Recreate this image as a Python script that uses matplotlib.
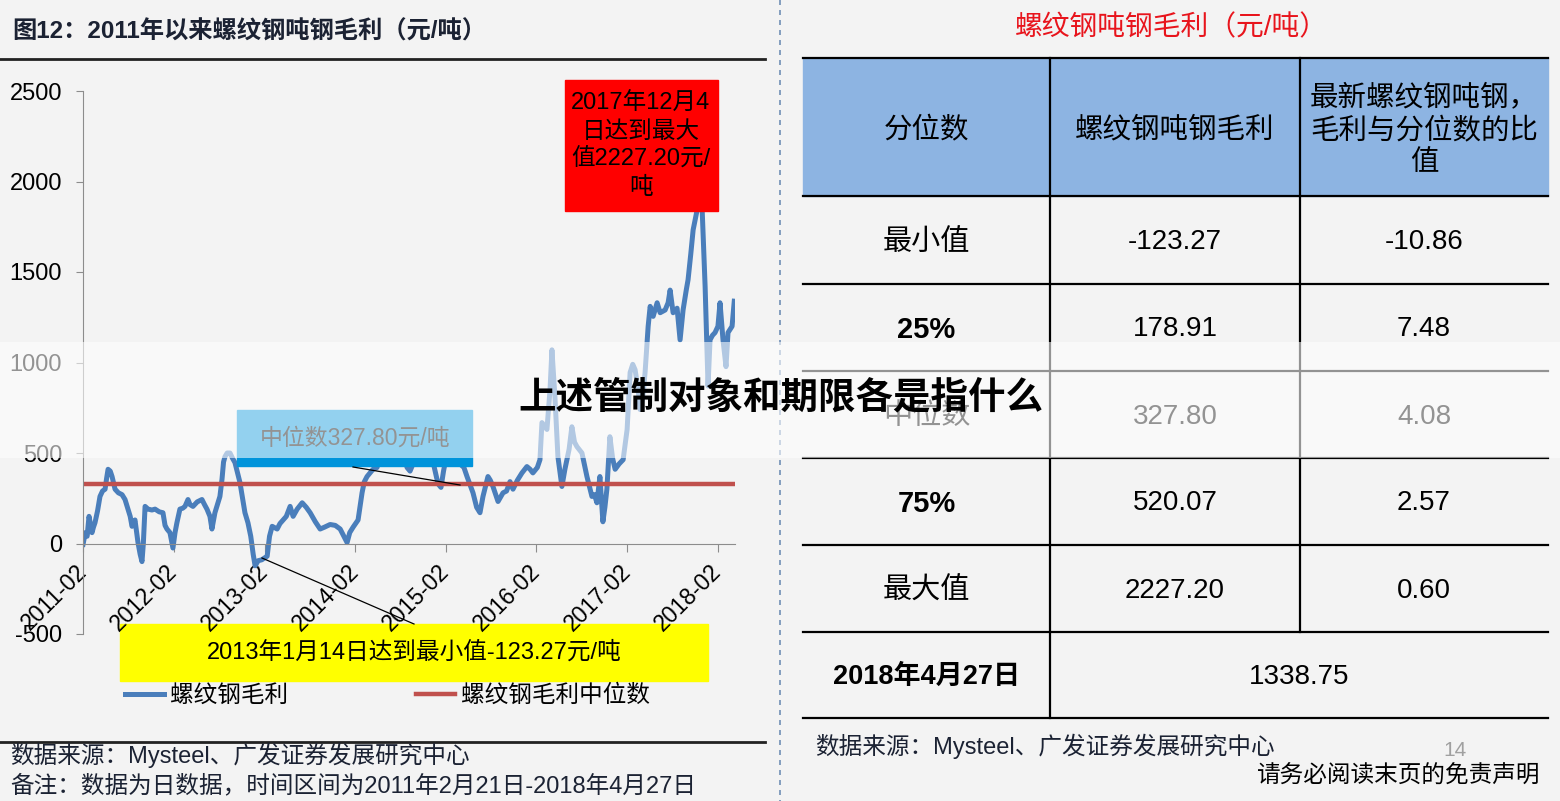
import matplotlib.pyplot as plt
import matplotlib.patches as mpatches
import pandas as pd

plt.rcParams['font.family'] = ['Liberation Sans', 'Noto Sans CJK SC', 'DejaVu Sans']
plt.rcParams['axes.unicode_minus'] = False

# ---- data: rebar gross margin per ton (yuan/ton) ----
t_year = [2011.140, 2011.165, 2011.185, 2011.206, 2011.239, 2011.255, 2011.272, 2011.300,
          2011.327, 2011.355, 2011.383, 2011.400, 2011.416, 2011.440, 2011.460, 2011.493,
          2011.530, 2011.570, 2011.603, 2011.636, 2011.660, 2011.680, 2011.713, 2011.746,
          2011.770, 2011.790, 2011.805, 2011.824, 2011.857, 2011.900, 2011.934, 2011.980,
          2012.022, 2012.045, 2012.066, 2012.099, 2012.132, 2012.155, 2012.176, 2012.209,
          2012.240, 2012.265, 2012.298, 2012.320, 2012.353, 2012.400, 2012.452, 2012.480,
          2012.507, 2012.540, 2012.562, 2012.595, 2012.628, 2012.650, 2012.673, 2012.690,
          2012.706, 2012.730, 2012.761, 2012.790, 2012.816, 2012.845, 2012.871, 2012.900,
          2012.926, 2012.959, 2012.990, 2013.015, 2013.036, 2013.070, 2013.110, 2013.140,
          2013.169, 2013.195, 2013.224, 2013.279, 2013.310, 2013.345, 2013.380, 2013.422,
          2013.455, 2013.500, 2013.555, 2013.600, 2013.643, 2013.700, 2013.753, 2013.800,
          2013.863, 2013.920, 2013.974, 2014.051, 2014.080, 2014.117, 2014.172, 2014.216,
          2014.240, 2014.271, 2014.337, 2014.381, 2014.420, 2014.470, 2014.530, 2014.580,
          2014.635, 2014.680, 2014.712, 2014.745, 2014.778, 2014.856, 2014.900, 2014.944,
          2014.999, 2015.054, 2015.087, 2015.115, 2015.142, 2015.219, 2015.296, 2015.340,
          2015.374, 2015.440, 2015.480, 2015.517, 2015.550, 2015.605, 2015.630, 2015.660,
          2015.716, 2015.771, 2015.810, 2015.848, 2015.881, 2015.930, 2015.980, 2016.035,
          2016.070, 2016.101, 2016.150, 2016.179, 2016.201, 2016.256, 2016.290, 2016.311,
          2016.344, 2016.377, 2016.421, 2016.454, 2016.500, 2016.531, 2016.560, 2016.587,
          2016.642, 2016.697, 2016.752, 2016.780, 2016.807, 2016.840, 2016.873, 2016.895,
          2016.917, 2016.950, 2016.980, 2017.006, 2017.050, 2017.094, 2017.138, 2017.171,
          2017.200, 2017.226, 2017.260, 2017.281, 2017.310, 2017.336, 2017.370, 2017.392,
          2017.425, 2017.469, 2017.502, 2017.557, 2017.590, 2017.612, 2017.645, 2017.689,
          2017.722, 2017.755, 2017.790, 2017.810, 2017.840, 2017.866, 2017.910, 2017.926,
          2017.945, 2017.965, 2017.998, 2018.031, 2018.053, 2018.080, 2018.108, 2018.140,
          2018.163, 2018.196, 2018.229, 2018.251, 2018.296, 2018.320]
margin = [-5, 60, 40, 150, 60, 90, 115, 180,
          260, 290, 300, 360, 410, 400, 370, 300,
          280, 270, 243, 190, 150, 95, 130, 5,
          -60, -100, 0, 205, 190, 185, 190, 175,
          170, 100, 80, 60, -25, 60, 115, 190,
          195, 205, 243, 215, 205, 230, 243, 215,
          190, 150, 80, 170, 225, 260, 355, 450,
          480, 500, 500, 470, 447, 390, 337, 250,
          170, 115, 40, -60, -123.27, -95, -90, -80,
          -70, 40, 95, 80, 110, 130, 150, 205,
          150, 190, 225, 200, 170, 120, 80, 90,
          105, 100, 80, 5, 60, 90, 130, 280,
          340, 370, 410, 420, 480, 520, 500, 480,
          560, 480, 420, 400, 440, 520, 500, 480,
          450, 330, 310, 400, 470, 450, 440, 420,
          370, 280, 200, 170, 260, 370, 350, 315,
          232, 280, 290, 342, 300, 350, 390, 425,
          410, 390, 420, 463, 668, 630, 850, 1070,
          811, 480, 315, 410, 520, 645, 560, 535,
          500, 370, 260, 270, 225, 370, 120, 200,
          300, 590, 470, 410, 440, 463, 630, 945,
          990, 960, 850, 740, 800, 945, 1200, 1310,
          1255, 1330, 1275, 1290, 1330, 1400, 1275, 1300,
          1125, 1290, 1400, 1457, 1600, 1733, 1843, 2227.20,
          2100, 1850, 1420, 870, 1125, 1150, 1165, 1200,
          1330, 1125, 977, 1165, 1200, 1338.75]
median_value = 327.80

# ---- table data ----
tbl_header = ['分位数', '螺纹钢吨钢毛利', '最新螺纹钢吨钢，\n毛利与分位数的比\n值']
tbl_rows = ['最小值', '25%', '中位数', '75%', '最大值']
tbl_margin = ['-123.27', '178.91', '327.80', '520.07', '2227.20']
tbl_ratio = ['-10.86', '7.48', '4.08', '2.57', '0.60']
latest_label = '2018年4月27日'
latest_value = '1338.75'


def to_date(y):
    yr = int(y)
    return pd.Timestamp(yr, 1, 1) + pd.Timedelta(days=(y - yr) * 365.25)


dates = [to_date(y) for y in t_year]

W, H = 1560, 801
fig = plt.figure(figsize=(W / 100, H / 100), dpi=100, facecolor='#f3f3f3')

# page overlay in pixel coords (created first so its transform can be reused)
pg = fig.add_axes([0, 0, 1, 1], zorder=5)
pg.set_xlim(0, W)
pg.set_ylim(H, 0)
pg.axis('off')

# ---- line chart ----
ax = fig.add_axes([83 / W, 1 - 634 / H, (735 - 83) / W, (634 - 91) / H], zorder=1)
ax.patch.set_alpha(0)
ax.plot(dates, margin, color='#4a7ebb', lw=3.6, label='螺纹钢毛利', solid_joinstyle='round')
ax.plot([dates[0], dates[-1]], [median_value, median_value], color='#c0504d', lw=3.2,
        label='螺纹钢毛利中位数')
ax.set_ylim(-500, 2500)
ax.set_yticks(range(-500, 2501, 500))
ax.set_xlim(dates[0], dates[-1] + pd.Timedelta(days=3))
xt = [pd.Timestamp(y, 2, 21) for y in range(2011, 2019)]
ax.set_xticks(xt)
ax.set_xticklabels([d.strftime('%Y-%m') for d in xt])
for s in ['top', 'right']:
    ax.spines[s].set_visible(False)
ax.spines['bottom'].set_position(('data', 0))
ax.spines['bottom'].set_color('#8c8c8c')
ax.spines['left'].set_color('#8c8c8c')
ax.tick_params(axis='y', labelsize=17, length=5, color='#8c8c8c', pad=10)
ax.tick_params(axis='x', labelsize=16.5, length=6, color='#8c8c8c', pad=12, labelrotation=45)
for lab in ax.get_xticklabels():
    lab.set_ha('right')
    lab.set_va('center')
    lab.set_rotation_mode('anchor')

# yellow minimum box sits under the tick labels
ax.add_patch(mpatches.Rectangle((120, 624), 588, 57, color='#ffff00', transform=pg.transData,
                                clip_on=False, zorder=0.5))

ax.legend(loc='center left', bbox_to_anchor=(104 / W, 1 - 696 / H), bbox_transform=fig.transFigure,
          ncol=2, frameon=False, fontsize=17, handlelength=1.65, columnspacing=5.4, handletextpad=0.25)

navy = '#1b2233'
pg.text(12, 32, '图12：2011年以来螺纹钢吨钢毛利（元/吨）', fontsize=17.5, weight='bold', color=navy,
        va='center', ha='left')
pg.plot([0, 765], [59, 59], color='#222222', lw=2)
pg.plot([0, 765], [742, 742], color='#222222', lw=2)
pg.plot([780, 780], [0, H], color='#6f8fb5', lw=1.2, ls=(0, (3, 3)))

# annotation boxes
pg.add_patch(mpatches.Rectangle((565, 80), 153, 131, color='#ff0000', zorder=3))
pg.text(641, 146, '2017年12月4\n日达到最大\n值2227.20元/\n吨', ha='center', va='center',
        fontsize=17, linespacing=1.33, zorder=4)
pg.add_patch(mpatches.Rectangle((237, 410), 235, 56, color='#0094db', zorder=3))
pg.text(355, 438, '中位数327.80元/吨', ha='center', va='center', fontsize=16.5, zorder=4)
pg.plot([353, 460], [467, 485], color='black', lw=0.9, zorder=4)
pg.text(414, 652, '2013年1月14日达到最小值-123.27元/吨', ha='center', va='center',
        fontsize=17, zorder=4)
pg.plot([262, 414], [558, 624], color='black', lw=0.9, zorder=4)

# footnotes left
pg.text(10, 755, '数据来源：Mysteel、广发证券发展研究中心', fontsize=17, color=navy, va='center')
pg.text(10, 786, '备注：数据为日数据，时间区间为2011年2月21日-2018年4月27日', fontsize=17,
        color=navy, va='center')

# ---- table ----
pg.text(1171, 28, '螺纹钢吨钢毛利（元/吨）', fontsize=20, color='#e8141c', ha='center', va='center')
x0, x1, x2, x3 = 803, 1050, 1300, 1548
row_y = [58, 196, 284, 371, 458, 545, 632, 718]
pg.add_patch(mpatches.Rectangle((x0, row_y[0]), x3 - x0, row_y[1] - row_y[0], color='#8db4e2', zorder=1))
for y in row_y:
    pg.plot([x0, x3], [y, y], color='black', lw=1.6, zorder=2)
pg.plot([x1, x1], [row_y[0], row_y[-1]], color='black', lw=1.6, zorder=2)
pg.plot([x2, x2], [row_y[0], row_y[-2]], color='black', lw=1.6, zorder=2)

cx = [(x0 + x1) / 2, (x1 + x2) / 2, (x2 + x3) / 2]
hy = (row_y[0] + row_y[1]) / 2 + 3
for c, txt in zip(cx, tbl_header):
    pg.text(c, hy, txt, ha='center', va='center', fontsize=20.5, linespacing=1.3)
for i, (lab, m, r) in enumerate(zip(tbl_rows, tbl_margin, tbl_ratio)):
    yc = (row_y[i + 1] + row_y[i + 2]) / 2 + 2
    w = 'bold' if '%' in lab else 'normal'
    pg.text(cx[0], yc, lab, ha='center', va='center', fontsize=21, weight=w)
    pg.text(cx[1], yc, m, ha='center', va='center', fontsize=20)
    pg.text(cx[2], yc, r, ha='center', va='center', fontsize=20)
yc = (row_y[-2] + row_y[-1]) / 2 + 2
pg.text(cx[0], yc, latest_label, ha='center', va='center', fontsize=19.5, weight='bold')
pg.text((x1 + x3) / 2, yc, latest_value, ha='center', va='center', fontsize=20)

pg.text(815, 746, '数据来源：Mysteel、广发证券发展研究中心', fontsize=17, color=navy, va='center')
pg.text(1455, 750, '14', fontsize=15, color='#a0a0a0', ha='center', va='center')
pg.text(1540, 777, '请务必阅读末页的免责声明', fontsize=17, color='black', ha='right', va='center')

# ---- watermark band ----
pg.add_patch(mpatches.Rectangle((0, 342), W, 116, color='white', alpha=0.58, lw=0, zorder=10))
pg.text(781, 398, '上述管制对象和期限各是指什么', fontsize=27, weight='bold', color='black',
        ha='center', va='center', zorder=11)

fig.savefig('out.png', dpi=100, facecolor=fig.get_facecolor())
